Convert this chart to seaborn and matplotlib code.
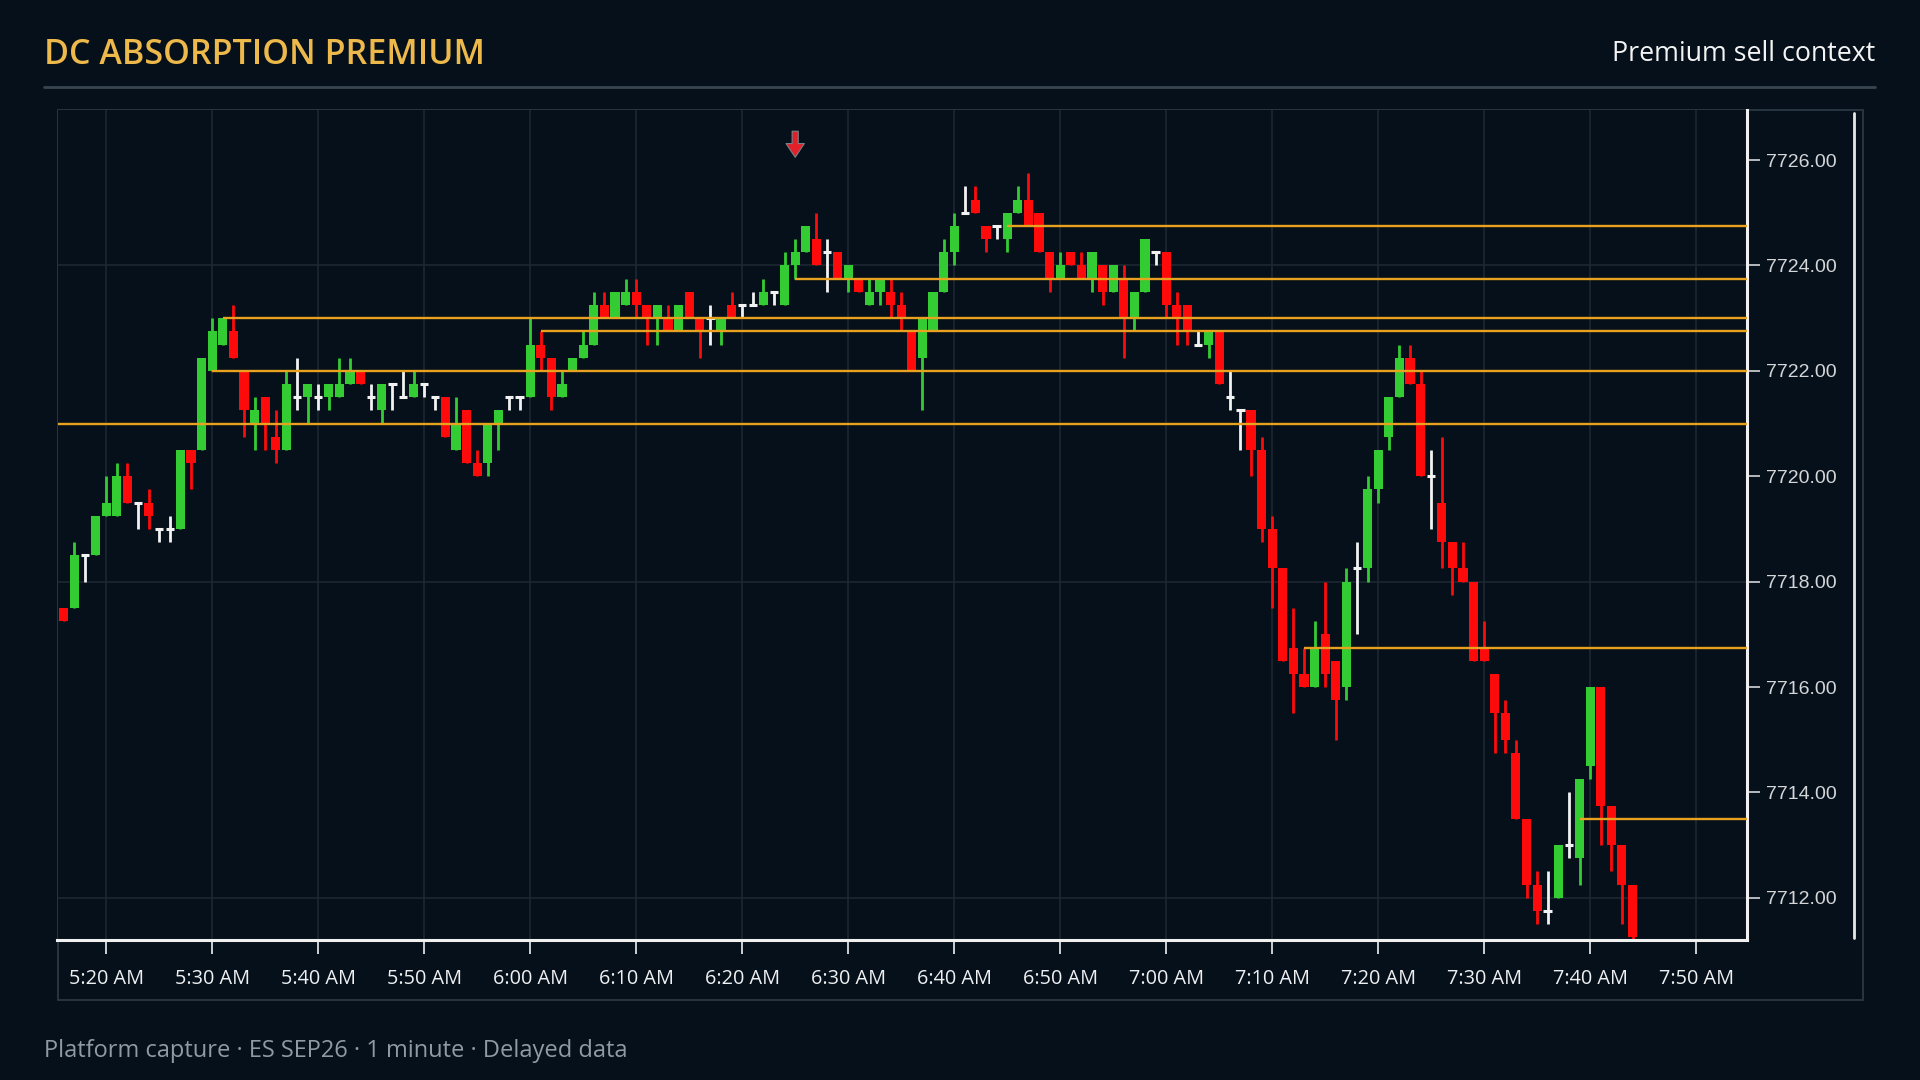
import numpy as np
import pandas as pd
import matplotlib
matplotlib.use("Agg")
import matplotlib.pyplot as plt
from matplotlib.lines import Line2D
from matplotlib.patches import Rectangle
import seaborn as sns

# --- data (1 minute ES bars) ---
first_bar = "2026-06-01 05:16"
opens = [7717.5, 7717.5, 7718.5, 7718.5, 7719.25, 7719.25, 7720.0, 7719.5, 7719.5, 7719.0,
         7719.0, 7719.0, 7720.5, 7720.5, 7722.0, 7722.5, 7722.75, 7722.0, 7721.0, 7721.5,
         7720.75, 7720.5, 7721.5, 7721.5, 7721.5, 7721.5, 7721.5, 7721.75, 7722.0, 7721.5,
         7721.25, 7721.75, 7721.5, 7721.5, 7721.75, 7721.5, 7721.5, 7720.5, 7721.25, 7720.25,
         7720.25, 7721.0, 7721.5, 7721.5, 7721.5, 7722.5, 7722.25, 7721.5, 7722.0, 7722.25,
         7722.5, 7723.25, 7723.0, 7723.25, 7723.5, 7723.25, 7723.0, 7723.0, 7722.75, 7723.5,
         7723.0, 7723.0, 7722.75, 7723.25, 7723.25, 7723.25, 7723.25, 7723.5, 7723.25, 7724.0,
         7724.25, 7724.5, 7724.25, 7724.25, 7723.75, 7723.75, 7723.25, 7723.5, 7723.5, 7723.25,
         7722.75, 7722.25, 7722.75, 7723.5, 7724.25, 7725.0, 7725.25, 7724.75, 7724.75, 7724.5,
         7725.0, 7725.25, 7725.0, 7724.25, 7723.75, 7724.25, 7724.0, 7723.75, 7724.0, 7723.5,
         7723.75, 7723.0, 7723.5, 7724.25, 7724.25, 7723.25, 7723.25, 7722.5, 7722.5, 7722.75,
         7721.5, 7721.25, 7721.25, 7720.5, 7719.0, 7718.25, 7716.75, 7716.25, 7716.0, 7717.0,
         7716.5, 7716.0, 7718.25, 7718.25, 7719.75, 7720.75, 7721.5, 7722.25, 7721.75, 7720.0,
         7719.5, 7718.75, 7718.25, 7718.0, 7716.75, 7716.25, 7715.5, 7714.75, 7713.5, 7712.25,
         7711.75, 7712.0, 7713.0, 7712.75, 7714.5, 7716.0, 7713.75, 7713.0, 7712.25]
highs = [7717.5, 7718.75, 7718.5, 7719.25, 7720.0, 7720.25, 7720.25, 7719.5, 7719.75, 7719.0,
         7719.25, 7720.5, 7720.5, 7722.25, 7723.0, 7723.0, 7723.25, 7722.0, 7721.5, 7721.5,
         7721.25, 7722.0, 7722.25, 7721.75, 7721.75, 7721.75, 7722.25, 7722.25, 7722.0, 7721.75,
         7721.75, 7721.75, 7722.0, 7722.0, 7721.75, 7721.5, 7721.5, 7721.5, 7721.25, 7720.5,
         7721.0, 7721.25, 7721.5, 7721.5, 7723.0, 7722.75, 7722.25, 7722.0, 7722.25, 7722.75,
         7723.5, 7723.5, 7723.5, 7723.75, 7723.75, 7723.25, 7723.25, 7723.25, 7723.25, 7723.5,
         7723.0, 7723.25, 7723.0, 7723.5, 7723.25, 7723.5, 7723.75, 7723.5, 7724.25, 7724.5,
         7724.75, 7725.0, 7724.5, 7724.25, 7724.0, 7723.75, 7723.75, 7723.75, 7723.75, 7723.5,
         7722.75, 7723.0, 7723.5, 7724.5, 7725.0, 7725.5, 7725.5, 7724.75, 7724.75, 7725.0,
         7725.5, 7725.75, 7725.0, 7724.25, 7724.25, 7724.25, 7724.25, 7724.25, 7724.0, 7724.0,
         7724.0, 7723.5, 7724.5, 7724.25, 7724.25, 7723.5, 7723.25, 7722.75, 7722.75, 7722.75,
         7722.0, 7721.25, 7721.25, 7720.75, 7719.25, 7718.25, 7717.5, 7716.75, 7717.25, 7718.0,
         7716.5, 7718.25, 7718.75, 7720.0, 7720.5, 7721.5, 7722.5, 7722.5, 7722.0, 7720.5,
         7720.75, 7718.75, 7718.75, 7718.0, 7717.25, 7716.25, 7715.75, 7715.0, 7713.5, 7712.5,
         7712.5, 7713.0, 7714.0, 7714.25, 7716.0, 7716.0, 7713.75, 7713.0, 7712.25]
lows = [7717.25, 7717.5, 7718.0, 7718.5, 7719.25, 7719.25, 7719.5, 7719.0, 7719.0, 7718.75,
        7718.75, 7719.0, 7719.75, 7720.5, 7722.0, 7722.5, 7722.25, 7720.75, 7720.5, 7720.5,
        7720.25, 7720.5, 7721.25, 7721.0, 7721.25, 7721.25, 7721.5, 7721.75, 7721.75, 7721.25,
        7721.0, 7721.25, 7721.5, 7721.5, 7721.5, 7721.25, 7720.75, 7720.5, 7720.25, 7720.0,
        7720.0, 7720.5, 7721.25, 7721.25, 7721.5, 7722.0, 7721.25, 7721.5, 7722.0, 7722.25,
        7722.5, 7723.0, 7723.0, 7723.25, 7723.0, 7722.5, 7722.5, 7722.75, 7722.75, 7723.0,
        7722.25, 7722.5, 7722.5, 7723.0, 7723.0, 7723.25, 7723.25, 7723.25, 7723.25, 7723.75,
        7724.25, 7724.0, 7723.5, 7723.75, 7723.5, 7723.5, 7723.25, 7723.25, 7723.0, 7722.75,
        7722.0, 7721.25, 7722.75, 7723.5, 7724.0, 7725.0, 7725.0, 7724.25, 7724.5, 7724.25,
        7725.0, 7724.75, 7724.25, 7723.5, 7723.75, 7724.0, 7723.75, 7723.5, 7723.25, 7723.5,
        7722.25, 7722.75, 7723.5, 7724.0, 7723.0, 7722.5, 7722.5, 7722.5, 7722.25, 7721.75,
        7721.25, 7720.5, 7720.0, 7718.75, 7717.5, 7716.5, 7715.5, 7716.0, 7716.0, 7716.0,
        7715.0, 7715.75, 7717.0, 7718.0, 7719.5, 7720.5, 7721.5, 7721.75, 7720.0, 7719.0,
        7718.25, 7717.75, 7718.0, 7716.5, 7716.5, 7714.75, 7714.75, 7713.5, 7712.0, 7711.5,
        7711.5, 7712.0, 7712.75, 7712.25, 7714.25, 7713.0, 7712.5, 7711.5, 7711.0]
closes = [7717.25, 7718.5, 7718.5, 7719.25, 7719.5, 7720.0, 7719.5, 7719.5, 7719.25, 7719.0,
          7719.0, 7720.5, 7720.25, 7722.25, 7722.75, 7723.0, 7722.25, 7721.25, 7721.25, 7721.0,
          7720.5, 7721.75, 7721.5, 7721.75, 7721.5, 7721.75, 7721.75, 7722.0, 7721.75, 7721.5,
          7721.75, 7721.75, 7721.5, 7721.75, 7721.75, 7721.5, 7720.75, 7721.0, 7720.25, 7720.0,
          7721.0, 7721.25, 7721.5, 7721.5, 7722.5, 7722.25, 7721.5, 7721.75, 7722.25, 7722.5,
          7723.25, 7723.0, 7723.5, 7723.5, 7723.25, 7723.0, 7723.25, 7722.75, 7723.25, 7723.0,
          7722.75, 7723.0, 7723.0, 7723.0, 7723.25, 7723.25, 7723.5, 7723.5, 7724.0, 7724.25,
          7724.75, 7724.0, 7724.25, 7723.75, 7724.0, 7723.5, 7723.5, 7723.75, 7723.25, 7723.0,
          7722.0, 7723.0, 7723.5, 7724.25, 7724.75, 7725.0, 7725.0, 7724.5, 7724.75, 7725.0,
          7725.25, 7724.75, 7724.25, 7723.75, 7724.0, 7724.0, 7723.75, 7724.25, 7723.5, 7724.0,
          7723.0, 7723.5, 7724.5, 7724.25, 7723.25, 7723.0, 7722.75, 7722.5, 7722.75, 7721.75,
          7721.5, 7721.25, 7720.5, 7719.0, 7718.25, 7716.5, 7716.25, 7716.0, 7716.75, 7716.25,
          7715.75, 7718.0, 7718.25, 7719.75, 7720.5, 7721.5, 7722.25, 7721.75, 7720.0, 7720.0,
          7718.75, 7718.25, 7718.0, 7716.5, 7716.5, 7715.5, 7715.0, 7713.5, 7712.25, 7711.75,
          7711.75, 7713.0, 7713.0, 7714.25, 7716.0, 7713.75, 7713.0, 7712.25, 7711.25]

# absorption levels and the bar where each one starts
level_prices = [7724.75, 7723.75, 7723.0, 7722.75, 7722.0, 7721.0, 7716.75, 7713.5]
level_starts = ["06:45", "06:25", "05:31", "06:01", "05:30", "05:15", "07:13", "07:39"]

signal_time = "06:25"
signal_price = 7726.0

x_tick_labels = ["5:20 AM", "5:30 AM", "5:40 AM", "5:50 AM", "6:00 AM", "6:10 AM",
                 "6:20 AM", "6:30 AM", "6:40 AM", "6:50 AM", "7:00 AM", "7:10 AM",
                 "7:20 AM", "7:30 AM", "7:40 AM", "7:50 AM"]
y_ticks = [7712, 7714, 7716, 7718, 7720, 7722, 7724, 7726]

title = "DC ABSORPTION PREMIUM"
subtitle = "Premium sell context"
footer = "Platform capture \u00b7 ES SEP26 \u00b7 1 minute \u00b7 Delayed data"


def to_minutes(hhmm):
    h, m = hhmm.split(":")
    return int(h) * 60 + int(m)


BG = "#06101a"
GREEN = "#33cc33"
RED = "#ff0a0a"
DOJI = "#f2f2f2"
LEVEL = "#e9a21f"
GRID = "#1d2832"

sns.set_theme(style="dark", rc={
    "figure.facecolor": BG,
    "axes.facecolor": BG,
    "savefig.facecolor": BG,
    "axes.grid": False,
})
plt.rcParams["font.family"] = ["Open Sans", "DejaVu Sans"]

times = pd.date_range(first_bar, periods=len(opens), freq="1min")
bars = pd.DataFrame({"open": opens, "high": highs, "low": lows, "close": closes})
bars["x"] = times.hour * 60 + times.minute
bars["kind"] = np.where(bars["close"] > bars["open"], "up",
                        np.where(bars["close"] < bars["open"], "down", "flat"))
colors = {"up": GREEN, "down": RED, "flat": DOJI}

fig = plt.figure(figsize=(19.2, 10.8), dpi=100)
W, H = 1920, 1080
ax = fig.add_axes([57.5 / W, 1 - 940 / H, 1689.5 / W, 830 / H])
ax.set_facecolor(BG)

x_ticks = [to_minutes("05:20") + 10 * i for i in range(len(x_tick_labels))]
xmin, xmax = 315.4, 474.8
ax.set_xlim(xmin, xmax)
ax.set_ylim(7711.2, 7726.95)

# grid
for xt in x_ticks:
    ax.axvline(xt, color=GRID, lw=1.2, zorder=0)
for yg in [7712, 7718, 7724]:
    ax.axhline(yg, color=GRID, lw=1.2, zorder=0)

# wicks
for kind, grp in bars.groupby("kind"):
    ax.vlines(grp["x"], grp["low"], grp["high"], color=colors[kind],
              lw=2.0, zorder=2)

# bodies
body_w = 0.86
moves = bars[bars["kind"] != "flat"]
ax.bar(moves["x"], (moves["close"] - moves["open"]).abs(),
       bottom=np.minimum(moves["open"], moves["close"]), width=body_w,
       color=[colors[k] for k in moves["kind"]], linewidth=0, zorder=3)
flats = bars[bars["kind"] == "flat"]
ax.hlines(flats["open"], flats["x"] - 0.4, flats["x"] + 0.4, color=DOJI, lw=2.2, zorder=3)

# levels
ax.hlines(level_prices, [to_minutes(s) for s in level_starts], xmax,
          color=LEVEL, lw=1.7, zorder=4)

# signal arrow
sx = to_minutes(signal_time)
ax.annotate("", xy=(sx, signal_price), xytext=(sx, signal_price + 0.6),
            arrowprops=dict(arrowstyle="simple,head_width=0.6,head_length=0.45,tail_width=0.2",
                            fc="#e3202a", ec="#7a7f86", lw=0.8, mutation_scale=22),
            zorder=6)

# axes styling
ax.set_xticks(x_ticks)
ax.set_xticklabels(x_tick_labels, fontsize=14.3, color="#eef0f2")
ax.set_yticks(y_ticks)
ax.set_yticklabels([f"{v:.2f}" for v in y_ticks], fontsize=14, color="#d4d6d8",
                   family=["Liberation Sans", "DejaVu Sans"])
ax.yaxis.tick_right()
ax.tick_params(axis="x", colors="#eef0f2", length=10, width=1.2, pad=11, direction="out",
               bottom=True)
ax.tick_params(axis="y", colors="#d4d6d8", length=9, width=1.2, pad=5, direction="out",
               right=True, left=False)
for t in ax.get_xticklabels():
    t.set_color("#eef0f2")
for t in ax.get_yticklabels():
    t.set_color("#d4d6d8")
for side in ["left", "top"]:
    ax.spines[side].set_visible(False)
for side in ["right", "bottom"]:
    ax.spines[side].set_visible(True)
    ax.spines[side].set_color("#f0f0f0")
    ax.spines[side].set_linewidth(2.2)
ax.set_xlabel("")
ax.set_ylabel("")

# panel frame and chrome
fig.add_artist(Rectangle((57.5 / W, 1 - 1000 / H), 1805 / W, 890 / H, transform=fig.transFigure,
                         fill=False, edgecolor="#2a3843", lw=1.3, zorder=0))
fig.add_artist(Line2D([1854 / W, 1854 / W], [1 - 113 / H, 1 - 938 / H], transform=fig.transFigure,
                      color="#e8e8e8", lw=2.0))
fig.add_artist(Line2D([44 / W, 1875 / W], [1 - 87 / H, 1 - 87 / H], transform=fig.transFigure,
                      color="#36454f", lw=2.0))

fig.text(44 / W, 1 - 55 / H, title, fontsize=24.5, color="#edb94b", fontweight="semibold",
         ha="left", va="center")
fig.text(1875 / W, 1 - 54 / H, subtitle, fontsize=19.3, color="#f4f4f4",
         ha="right", va="center")
fig.text(44 / W, 1 - 1051 / H, footer, fontsize=17, color="#8f9aa4",
         ha="left", va="center")

fig.savefig("out.png", dpi=100, facecolor=BG)
